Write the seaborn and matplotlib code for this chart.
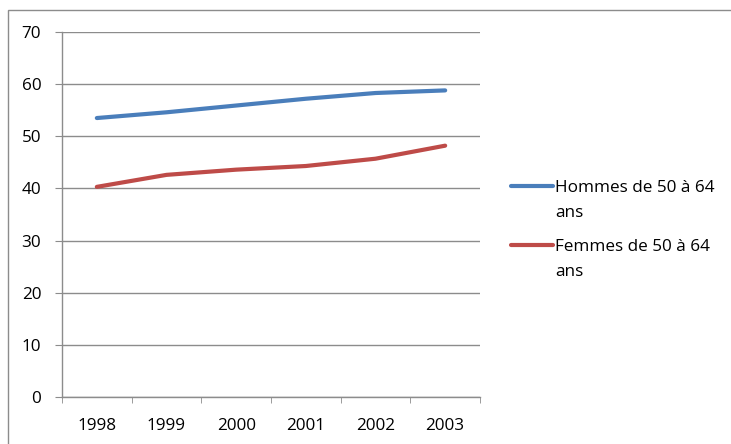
import pandas as pd
import matplotlib.pyplot as plt
import seaborn as sns
from matplotlib.patches import Rectangle

years = ["1998", "1999", "2000", "2001", "2002", "2003"]
hommes = [53.5, 54.6, 55.9, 57.2, 58.3, 58.8]
femmes = [40.3, 42.6, 43.6, 44.3, 45.7, 48.2]
labels = ["Hommes de 50 à 64", "Femmes de 50 à 64"]
label_suite = "ans"
colors = ["#4a7ebb", "#be4b48"]

df = pd.DataFrame({
    "annee": years * 2,
    "valeur": hommes + femmes,
    "serie": [labels[0]] * len(years) + [labels[1]] * len(years),
})

sns.set_style("white")
plt.rcParams["font.family"] = ["Open Sans", "DejaVu Sans"]
plt.rcParams["text.color"] = "black"
plt.rcParams["xtick.color"] = "black"
plt.rcParams["ytick.color"] = "black"

fs = 12.3

fig = plt.figure(figsize=(7.31, 4.44), dpi=100)
ax = fig.add_axes([62 / 731, 47 / 444, 418 / 731, 365 / 444])

sns.lineplot(data=df, x="annee", y="valeur", hue="serie", palette=colors,
             linewidth=3, ax=ax, sort=False)

ax.set_xlim(-0.5, 5.5)
ax.set_ylim(0, 70)
ax.set_yticks(range(0, 71, 10))
ax.yaxis.grid(True, color="#8c8c8c", linewidth=1)
ax.xaxis.grid(False)
ax.set_xlabel("")
ax.set_ylabel("")
ax.set_xticks(range(6))
ax.set_xticks([i - 0.5 for i in range(7)], minor=True)
ax.tick_params(axis="x", which="major", length=0, labelsize=fs, pad=15)
ax.tick_params(axis="x", which="minor", length=4.5, color="#8c8c8c",
               direction="out", bottom=True)
ax.tick_params(axis="y", length=5, color="#8c8c8c", direction="out",
               labelsize=fs, pad=10, left=True)
for s in ["top", "right"]:
    ax.spines[s].set_visible(False)
for s in ["left", "bottom"]:
    ax.spines[s].set_color("#8c8c8c")
    ax.spines[s].set_linewidth(1)

leg = ax.legend(loc="upper left", bbox_to_anchor=(1.057, 0.613), frameon=False,
                fontsize=fs, handlelength=2.5, handletextpad=0.1,
                labelspacing=2.5, borderaxespad=0)
for line in leg.get_lines():
    line.set_linewidth(3)

# second line of each legend label, drawn under the first line
for t in leg.get_texts():
    ax.annotate(label_suite, xy=(0, 0), xycoords=t, xytext=(0, -18),
                textcoords="offset points", fontsize=fs, va="bottom", ha="left",
                annotation_clip=False, zorder=10)

fig.patches.append(Rectangle((8 / 731, -0.1), 1.0, (444 - 10) / 444 + 0.1,
                             transform=fig.transFigure, fill=False,
                             edgecolor="#8c8c8c", linewidth=1))

fig.savefig("out.png", dpi=100)
